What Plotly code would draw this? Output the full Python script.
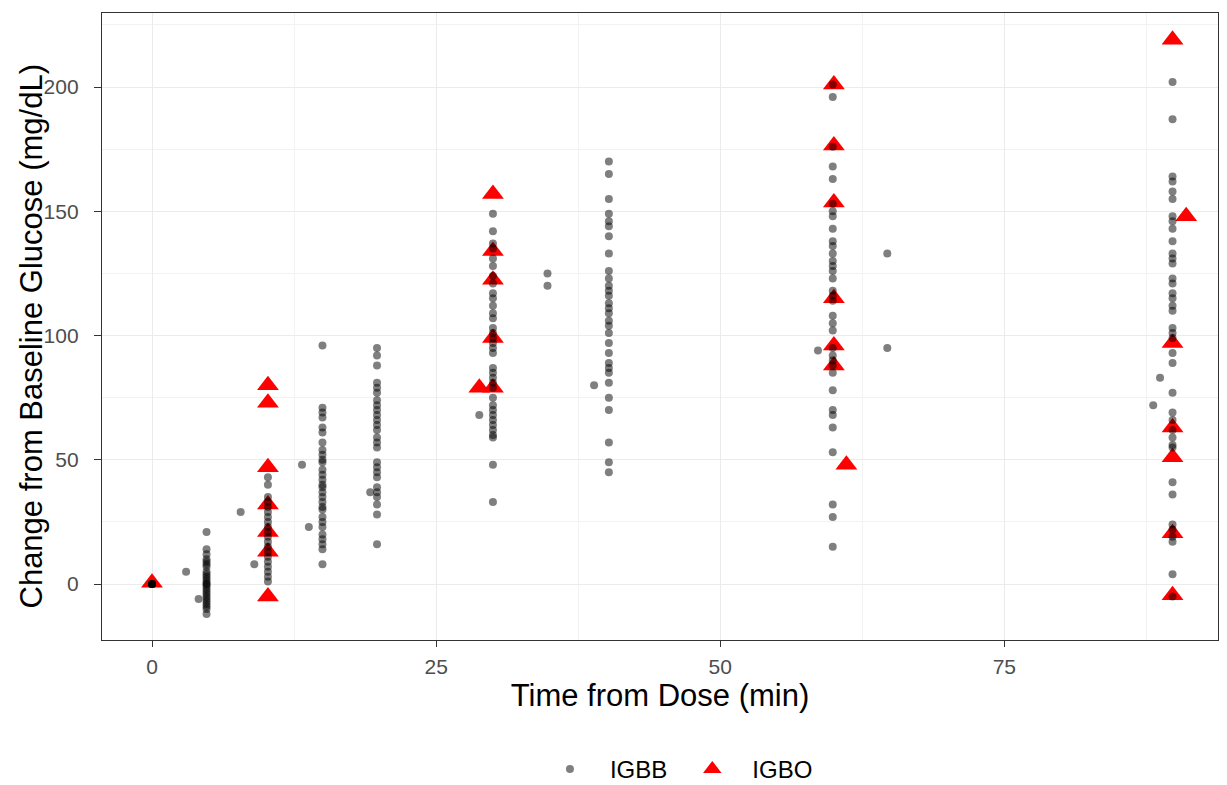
import plotly.graph_objects as go

# ---------------- data ----------------
# IGBB: columns at nominal sampling times (min) -> change from baseline (mg/dL)
igbb_t0 = [0, 0, 0, 0, 0, 0]
igbb_t5 = [21, 14, 12, 10, 9, 8, 7, 5, 4, 3, 2, 1, 0, 0, -1, -2, -3, -4, -5,
           -6, -7, -8, -9, -10, -12]
igbb_t10 = [43, 40, 35, 33, 31, 29, 27, 25, 23, 21, 19, 17, 15, 13, 11, 9, 7,
            5, 3, 1]
igbb_t15 = [96, 71, 69, 67, 63, 61, 57, 54, 52, 50, 49, 46, 44, 42, 40, 39, 37,
            35, 33, 31, 30, 27, 25, 23, 20, 18, 16, 14, 8]
igbb_t20 = [95, 92, 88, 81, 79, 77, 74, 72, 70, 68, 66, 64, 62, 59, 57, 55, 49,
            47, 45, 43, 39, 37, 35, 32, 28, 16]
igbb_t30 = [149, 142, 137, 135, 131, 128, 124, 121, 117, 115, 112, 109, 107,
            103, 101, 99, 97, 95, 93, 87, 85, 83, 81, 79, 75, 72, 70, 68, 66,
            64, 62, 60, 59, 48, 33]
igbb_t40 = [170, 165, 155, 149, 146, 144, 140, 133, 126, 123, 120, 118, 116,
            113, 111, 109, 106, 104, 101, 97, 93, 89, 87, 85, 81, 75, 70, 57,
            49, 45]
igbb_t60 = [201, 196, 176, 168, 163, 153, 150, 148, 143, 138, 136, 133, 130,
            128, 126, 123, 118, 116, 114, 108, 105, 102, 95, 92, 90, 88, 85, 78,
            70, 68, 63, 53, 32, 27, 15]
igbb_t90 = [202, 187, 164, 162, 158, 155, 148, 146, 143, 138, 133, 131, 129,
            123, 121, 117, 115, 112, 110, 103, 101, 99, 93, 89, 77, 69, 66, 62,
            59, 56, 55, 41, 36, 24, 22, 19, 17, 4, -5]
# off-schedule IGBB samples
igbb_extra_time = [3.0, 4.1, 7.8, 9.0, 13.2, 13.8, 19.2, 28.8, 34.8, 34.8,
                   38.9, 58.6, 64.7, 64.7, 88.1, 88.7]
igbb_extra_change = [5, -6, 29, 8, 48, 23, 37, 68, 125, 120,
                     80, 94, 133, 95, 72, 83]

# IGBO samples
igbo_time = [0, 10.2, 10.2, 10.2, 10.2, 10.2, 10.2, 10.2,
             30, 30, 30, 30, 30, 28.8,
             60, 60, 60, 60, 60, 60, 61.1,
             89.8, 91.0, 89.8, 89.8, 89.8, 89.8, 89.8]
igbo_change = [0.5, 80, 73, 47, 32, 21, 13, -5,
               157, 134, 122.5, 99, 79, 79,
               201, 176.5, 153.5, 115, 96, 88, 48,
               219, 148, 97, 63, 51, 20.5, -4.5]

# build IGBB arrays
igbb_cols = [(0, igbb_t0), (4.8, igbb_t5), (10.2, igbb_t10), (15, igbb_t15),
             (19.8, igbb_t20), (30, igbb_t30), (40.2, igbb_t40),
             (59.9, igbb_t60), (89.8, igbb_t90)]
igbb_time, igbb_change = [], []
for t, vals in igbb_cols:
    igbb_time += [t] * len(vals)
    igbb_change += vals
igbb_time += igbb_extra_time
igbb_change += igbb_extra_change

FONT = "Liberation Sans, Arial, sans-serif"

fig = go.Figure()
fig.add_trace(go.Scatter(
    x=igbo_time, y=igbo_change, mode="markers", name="IGBO",
    marker=dict(symbol="triangle-up", size=19, color="#FF0000",
                line=dict(width=0)),
    legendrank=2,
))
fig.add_trace(go.Scatter(
    x=igbb_time, y=igbb_change, mode="markers", name="IGBB",
    marker=dict(symbol="circle", size=8, color="rgba(0,0,0,0.5)",
                line=dict(width=0)),
    legendrank=1,
))

grid_major = "#EBEBEB"
fig.update_layout(
    width=1227, height=785,
    margin=dict(l=102, r=9, t=13, b=145, autoexpand=False),
    paper_bgcolor="white", plot_bgcolor="white",
    font=dict(family=FONT, color="#000000"),
    showlegend=True,
    legend=dict(orientation="h", x=0.5125, xanchor="center",
                yref="container", y=0.02, yanchor="middle",
                font=dict(size=24, color="#000000"),
                itemsizing="trace", traceorder="normal", itemwidth=70,
                bgcolor="rgba(0,0,0,0)"),
    xaxis=dict(
        range=[-4.4, 93.8], tickvals=[0, 25, 50, 75],
        showgrid=True, gridcolor=grid_major, gridwidth=1.3,
        minor=dict(tickvals=[12.5, 37.5, 62.5, 87.5], showgrid=True,
                   gridcolor="#F2F2F2", gridwidth=0.9, ticks=""),
        zeroline=False, showline=True, linecolor="#333333", linewidth=1.3,
        mirror=True, ticks="outside", ticklen=6, tickcolor="#333333",
        tickfont=dict(size=21, color="#4D4D4D", family=FONT),
        ticklabelstandoff=2, automargin=False,
        title=dict(text="Time from Dose (min)", font=dict(size=31,
                   color="#000000", family=FONT), standoff=0),
    ),
    yaxis=dict(
        range=[-22.5, 229.8], tickvals=[0, 50, 100, 150, 200],
        showgrid=True, gridcolor=grid_major, gridwidth=1.3,
        minor=dict(tickvals=[-25, 25, 75, 125, 175, 225], showgrid=True,
                   gridcolor="#F2F2F2", gridwidth=0.9, ticks=""),
        zeroline=False, showline=True, linecolor="#333333", linewidth=1.3,
        mirror=True, ticks="outside", ticklen=7, tickcolor="#333333",
        tickfont=dict(size=21, color="#4D4D4D", family=FONT),
        ticklabelstandoff=11, automargin=False,
    ),
    annotations=[dict(
        text="Change from Baseline Glucose (mg/dL)", textangle=-90,
        xref="paper", yref="paper", x=0, y=0.5, xanchor="center",
        yanchor="middle", xshift=-71, yshift=-10, showarrow=False,
        font=dict(size=31, color="#000000", family=FONT),
    )],
)

fig.write_html("out.html")
